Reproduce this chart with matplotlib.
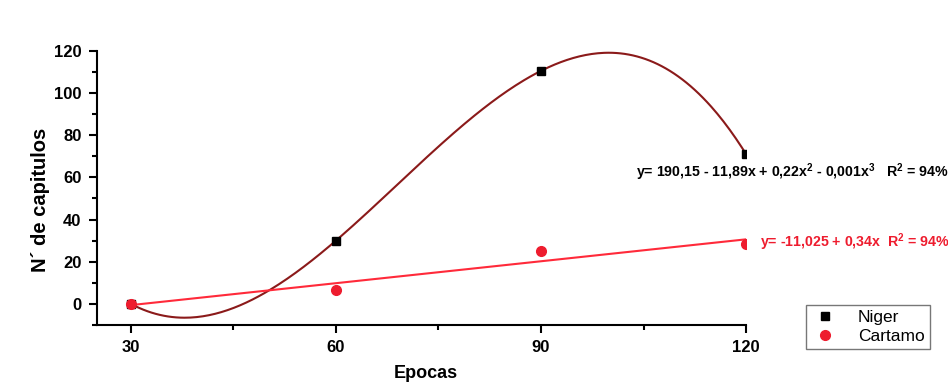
import numpy as np
import matplotlib
matplotlib.use("Agg")
import matplotlib.pyplot as plt

plt.rcParams['font.family'] = ['Liberation Sans', 'DejaVu Sans']
plt.rcParams['mathtext.fontset'] = 'custom'
plt.rcParams['mathtext.rm'] = 'Liberation Sans:bold'
plt.rcParams['mathtext.bf'] = 'Liberation Sans:bold'
plt.rcParams['mathtext.default'] = 'bf'

epocas = [30, 60, 90, 120]
niger = [0, 30, 110.5, 71]
cartamo = [0, 6.5, 25, 28.5]
xticks = [30, 60, 90, 120]
yticks = [0, 20, 40, 60, 80, 100, 120]

fig = plt.figure(figsize=(9.48, 3.85), dpi=100)
ax = fig.add_axes([0.102, 0.156, 0.685, 0.712])

x = np.array(epocas, float)
xs = np.linspace(30, 120, 300)
c3 = np.polyfit(x, niger, 3)
c1 = np.polyfit(x, cartamo, 1)

ax.plot(xs, np.polyval(c3, xs), color='#8b1a1a', lw=1.5, zorder=2)
ax.plot(xs, np.polyval(c1, xs), color='#ff2a3a', lw=1.5, zorder=2)
ax.plot(epocas, niger, 's', color='black', ms=6, label='Niger', zorder=3)
ax.plot(epocas, cartamo, 'o', color='#ee1c2e', ms=7, label='Cartamo', zorder=3)

ax.set_xlim(25, 120)
ax.set_ylim(-10, 120)
ax.set_xticks(xticks)
ax.set_xticks([45, 75, 105], minor=True)
ax.set_yticks(yticks)
ax.set_yticks(np.arange(-10, 121, 20), minor=True)
for s in ['top', 'right']:
    ax.spines[s].set_visible(False)
for s in ['left', 'bottom']:
    ax.spines[s].set_linewidth(1.5)
ax.tick_params(which='major', length=6, width=1.5, labelsize=12, pad=5)
ax.tick_params(which='minor', length=3.5, width=1.5)
for lab in ax.get_xticklabels() + ax.get_yticklabels():
    lab.set_fontweight('bold')

fig.text(0.449, 1 - 373 / 385, 'Epocas', fontsize=13, fontweight='bold', ha='center', va='center')
fig.text(0.043, 1 - 200 / 385, 'N´ de capitulos', fontsize=14.5, fontweight='bold',
         ha='center', va='center', rotation=90)

fig.text(0.671, 1 - 172 / 385, r'y= 190,15 - 11,89x + 0,22x$^2$ - 0,001x$^3$   R$^2$ = 94%',
         fontsize=10.2, fontweight='bold', color='black', va='center', ha='left')
fig.text(0.802, 1 - 242 / 385, r'y= -11,025 + 0,34x  R$^2$ = 94%',
         fontsize=10.2, fontweight='bold', color='#ee1c2e', va='center', ha='left')

leg = fig.legend(loc='upper left', bbox_to_anchor=(0.850, 1 - 305 / 385), bbox_transform=fig.transFigure,
                 fontsize=12.5, frameon=True, fancybox=False, borderpad=0.3,
                 handletextpad=1.1, labelspacing=0.2, handlelength=1.6, borderaxespad=0)
leg.get_frame().set_edgecolor('#555555')
leg.get_frame().set_linewidth(1.0)

fig.savefig('out.png', dpi=100)
